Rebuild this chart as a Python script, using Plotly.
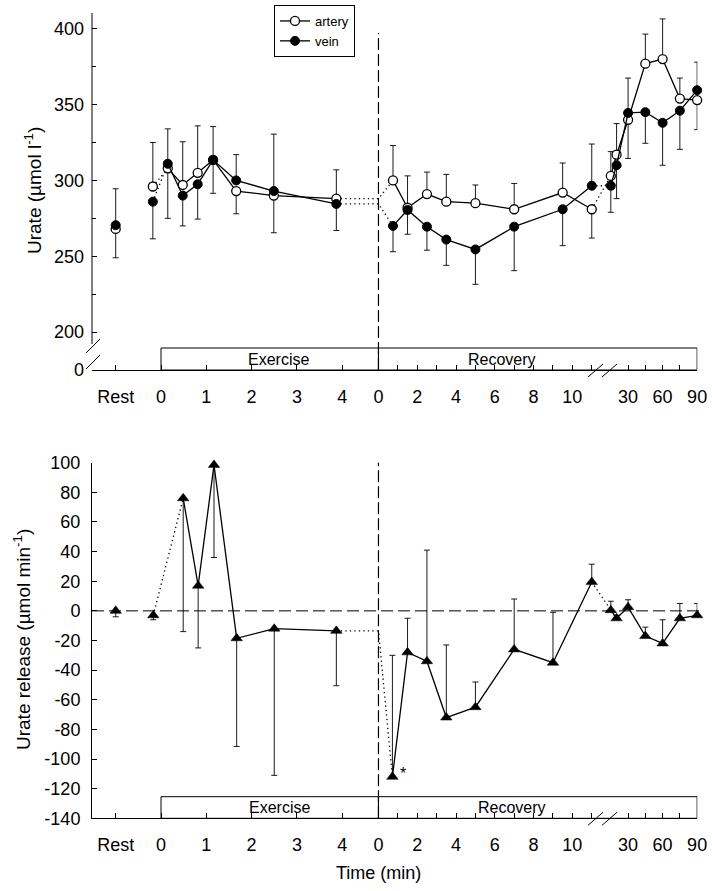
import plotly.graph_objects as go

W, H = 712, 891
FONT = "Liberation Sans"

# ---------------- data ----------------
# phase of each sample and its time (min) within that phase
top_phase = ['rest', 'pre'] + ['ex'] * 7 + ['rec'] * 8 + ['late'] * 7
top_time = [0, -0.18,
            0.15, 0.48, 0.81, 1.15, 1.66, 2.49, 3.87,
            0.75, 1.5, 2.5, 3.5, 5.0, 7.0, 9.5, 11.0,
            15, 20, 30, 45, 60, 75, 90]

artery = [268, 296,
          308, 297, 305, 313.5, 293, 290, 288,
          300, 282, 291, 286, 285, 281, 292, 281,
          303, 317, 340, 377, 380, 354, 353]
artery_err_up = [0, 29,
                 0, 28.5, 31, 22, 0, 0, 19,
                 23, 21, 14.5, 18, 12, 17, 19.5, 0,
                 16, 20.5, 0, 19.5, 26.5, 13.5, 0]
artery_err_down = [19, 0,
                   33, 0, 0, 0, 15, 24.5, 0,
                   0, 0, 0, 0, 0, 0, 0, 19,
                   0, 0, 25.5, 0, 0, 0, 19.5]

vein = [270.5, 286,
        311, 290, 297.5, 313.5, 300, 293, 284.5,
        270, 280.5, 269.5, 261, 254.5, 269.5, 281, 296.5,
        296.5, 310, 344.5, 345, 338, 346, 359.5]
vein_err_up = [24, 0,
               23, 0, 0, 0, 17, 37.5, 0,
               0, 0, 0, 0, 0, 0, 0, 27.5,
               0, 0, 23, 0, 0, 0, 18.5]
vein_err_down = [0, 24.5,
                 0, 20, 23, 22, 0, 0, 17.5,
                 17, 16, 15.5, 17, 23, 29, 24, 0,
                 17.5, 22, 0, 20.5, 28, 25.5, 0]

bot_phase = ['rest', 'pre'] + ['ex'] * 6 + ['rec'] * 8 + ['late'] * 7
bot_time = [0, -0.17,
            0.49, 0.82, 1.17, 1.67, 2.5, 3.87,
            0.72, 1.5, 2.5, 3.5, 5.0, 7.0, 9.0, 11.0,
            15, 20, 30, 45, 60, 75, 90]
release = [0, -3,
           76, 17, 98.5, -18.5, -12, -13.5,
           -112, -28, -34, -72, -65, -26, -35, 19.5,
           0.5, -5, 2.5, -17, -22, -5, -3]
release_err_up = [0, 0,
                  0, 0, 0, 0, 0, 0,
                  82, 23, 75, 49, 17, 34, 34, 12,
                  6, 2, 5, 6, 16, 10, 8]
release_err_down = [4, 3,
                    90, 42, 62.5, 73, 99, 37,
                    0, 0, 0, 0, 0, 0, 0, 0,
                    0, 0, 0, 0, 0, 0, 0]

# tick labels on the time axis
tick_ex = [0, 1, 2, 3, 4]
tick_rec = [0, 2, 4, 6, 8, 10]
tick_rec_minor = [1, 3, 5, 7, 9, 11]
tick_late = [30, 60, 90]
tick_late_minor = [45, 75]

top_yticks = [200, 250, 300, 350, 400]
top_yminor = [225, 275, 325, 375]
bot_yticks = list(range(-140, 101, 20))

# ---------------- broken time-axis scale ----------------
EX_END = 4.8          # exercise duration (axis units = exercise minutes)
REC_SCALE = 0.428     # recovery minutes are compressed
LATE_30 = 10.31       # position of 30 min after the break
LATE_SCALE = 0.0254


def pos(phase, t):
    if phase == 'rest':
        return -1.0
    if phase in ('pre', 'ex'):
        return t
    if phase == 'rec':
        return EX_END + t * REC_SCALE
    return LATE_30 + (t - 30) * LATE_SCALE


XR = [-1.523, 11.84]
X0, X1 = 92 / W, 697.4 / W


def px(x):
    return x / W


def py(y):
    return 1 - y / H


tickvals = [pos('rest', 0)] + [pos('ex', t) for t in tick_ex] + \
    [pos('rec', t) for t in tick_rec] + [pos('late', t) for t in tick_late]
ticktext = ['Rest'] + [str(t) for t in tick_ex] + [str(t) for t in tick_rec] + \
    [str(t) for t in tick_late]
minorvals = [pos('rec', t) for t in tick_rec_minor] + [pos('late', t) for t in tick_late_minor]

fig = go.Figure()

GROUPS = ['rest', 'pre', 'ex', 'rec', 'late']


def add_series(phases, times, vals, eup, edn, marker, name, xa, ya, legend):
    xs = [pos(p, t) for p, t in zip(phases, times)]
    idx = {g: [i for i, p in enumerate(phases) if p == g] for g in GROUPS}
    # dotted connectors
    for g1, g2 in [('pre', 'ex'), ('ex', 'rec'), ('rec', 'late')]:
        a, b = idx[g1][-1], idx[g2][0]
        cx = [xs[a], xs[b]]
        cy = [vals[a], vals[b]]
        if g1 == 'ex':
            cx = [xs[a], pos('rec', 0), xs[b]]
            cy = [vals[a], vals[a], vals[b]]
        fig.add_trace(go.Scatter(x=cx, y=cy, mode='lines', xaxis=xa, yaxis=ya,
                                 line=dict(color='black', width=1.3, dash='1.3px,3.2px'),
                                 showlegend=False, hoverinfo='skip'))
    for g in GROUPS:
        ii = idx[g]
        fig.add_trace(go.Scatter(
            x=[xs[i] for i in ii], y=[vals[i] for i in ii],
            mode='lines+markers', xaxis=xa, yaxis=ya, name=name,
            legendgroup=name, showlegend=(legend and g == 'rest'),
            line=dict(color='black', width=1.3),
            marker=marker, cliponaxis=False,
            error_y=dict(type='data', symmetric=False,
                         array=[eup[i] for i in ii], arrayminus=[edn[i] for i in ii],
                         color='black', thickness=0.9, width=3)))


open_c = dict(symbol='circle', size=9, color='white', line=dict(color='black', width=1.3))
fill_c = dict(symbol='circle', size=9, color='black', line=dict(color='black', width=1))
tri = dict(symbol='triangle-up', size=10, color='black', line=dict(color='black', width=0.5))

add_series(top_phase, top_time, artery, artery_err_up, artery_err_down, open_c, 'artery', 'x', 'y', True)
add_series(top_phase, top_time, vein, vein_err_up, vein_err_down, fill_c, 'vein', 'x', 'y', True)
add_series(bot_phase, bot_time, release, release_err_up, release_err_down, tri, 'release', 'x2', 'y2', False)

axis_common = dict(showgrid=False, zeroline=False, ticks='inside', ticklen=5,
                   tickcolor='black', tickwidth=1, linecolor='black', linewidth=1,
                   automargin=False,
                   tickfont=dict(family=FONT, size=18, color='black'))

xcommon = dict(axis_common, range=XR, domain=[X0, X1], tickmode='array',
               tickvals=tickvals, ticktext=ticktext, showline=True,
               ticklabelstandoff=10,
               minor=dict(tickmode='array', tickvals=minorvals, ticks='inside',
                          ticklen=5, tickcolor='black', tickwidth=1))

TOP_Y0 = 175   # value shown at the baseline (labelled 0, broken axis)
fig.update_layout(
    width=W, height=H, margin=dict(l=0, r=0, t=0, b=0, pad=0, autoexpand=False),
    paper_bgcolor='white', plot_bgcolor='white',
    font=dict(family=FONT, color='black'),
    xaxis=dict(xcommon, anchor='y'),
    yaxis=dict(axis_common, range=[TOP_Y0, 410.4], domain=[py(370), py(13)],
               anchor='x', showline=False, tickmode='array',
               tickvals=[TOP_Y0] + top_yticks,
               ticktext=['0'] + [str(v) for v in top_yticks],
               ticklabelstandoff=7,
               minor=dict(tickmode='array', tickvals=top_yminor, ticks='inside',
                          ticklen=4, tickcolor='black')),
    xaxis2=dict(xcommon, anchor='y2'),
    yaxis2=dict(axis_common, range=[-140, 100], domain=[py(818.3), py(462.7)],
                anchor='x2', showline=True, tickmode='array',
                tickvals=bot_yticks, ticktext=[str(v) for v in bot_yticks],
                ticklabelstandoff=7),
    legend=dict(x=px(274), y=py(5), xanchor='left', yanchor='top',
                bordercolor='black', borderwidth=1, bgcolor='white',
                font=dict(family=FONT, size=13, color='black'),
                itemwidth=30, tracegroupgap=0),
)

shapes = []
# top y axis line with break
shapes.append(dict(type='line', xref='paper', yref='paper', x0=px(92), x1=px(92),
                   y0=py(344), y1=py(13), line=dict(color='black', width=1)))
for yy in (352, 368):
    shapes.append(dict(type='line', xref='paper', yref='paper', x0=px(86), x1=px(100),
                       y0=py(yy + 1), y1=py(yy - 13), line=dict(color='black', width=1)))
# x-axis breaks
for base in (370, 818.3):
    for x0 in (588, 602):
        shapes.append(dict(type='line', xref='paper', yref='paper', x0=px(x0), x1=px(x0 + 15),
                           y0=py(base + 7), y1=py(base - 6), line=dict(color='black', width=1)))
# vertical dashed lines at end of exercise
shapes.append(dict(type='line', xref='x', yref='paper', x0=pos('rec', 0), x1=pos('rec', 0),
                   y0=py(370), y1=py(33), line=dict(color='black', width=1.2, dash='12px,4px'),
                   layer='below'))
shapes.append(dict(type='line', xref='x2', yref='paper', x0=pos('rec', 0), x1=pos('rec', 0),
                   y0=py(818.3), y1=py(462.7), line=dict(color='black', width=1.2, dash='12px,4px'),
                   layer='below'))
# zero line in bottom panel
shapes.append(dict(type='line', xref='paper', yref='y2', x0=px(92), x1=px(704), y0=0, y1=0,
                   line=dict(color='black', width=1, dash='12px,5px'), layer='below'))
# exercise / recovery boxes
for xa, ytop, ybot in (('x', 348, 370), ('x2', 796.7, 818.3)):
    shapes.append(dict(type='rect', xref=xa, yref='paper', x0=pos('ex', 0), x1=pos('rec', 0),
                       y0=py(ybot), y1=py(ytop), line=dict(color='black', width=1)))
    shapes.append(dict(type='rect', xref=xa, yref='paper', x0=pos('rec', 0), x1=pos('late', 90),
                       y0=py(ybot), y1=py(ytop), line=dict(color='black', width=1)))
fig.update_layout(shapes=shapes)

ann = []


def text(x, y, s, size=16, angle=0):
    ann.append(dict(xref='paper', yref='paper', x=px(x), y=py(y), text=s, showarrow=False,
                    textangle=angle, xanchor='center', yanchor='middle',
                    font=dict(family=FONT, size=size, color='black')))


text(278, 359, 'Exercise')
text(502, 359, 'Recovery')
text(279, 807.5, 'Exercise')
text(512, 807.5, 'Recovery')
text(33, 191, 'Urate (µmol l<sup>-1</sup>)', 19, -90)
text(22, 640, 'Urate release (µmol min<sup>-1</sup>)', 19, -90)
text(378, 873, 'Time (min)', 18)
ann.append(dict(xref='x2', yref='y2', x=pos(bot_phase[8], bot_time[8]), y=release[8],
                text='*', showarrow=False, xshift=11, yshift=3,
                font=dict(family=FONT, size=16, color='black')))
fig.update_layout(annotations=ann)

fig.write_html("out.html", config={'displayModeBar': False},
               post_script="document.body.style.margin='0';document.body.style.overflow='hidden';")
